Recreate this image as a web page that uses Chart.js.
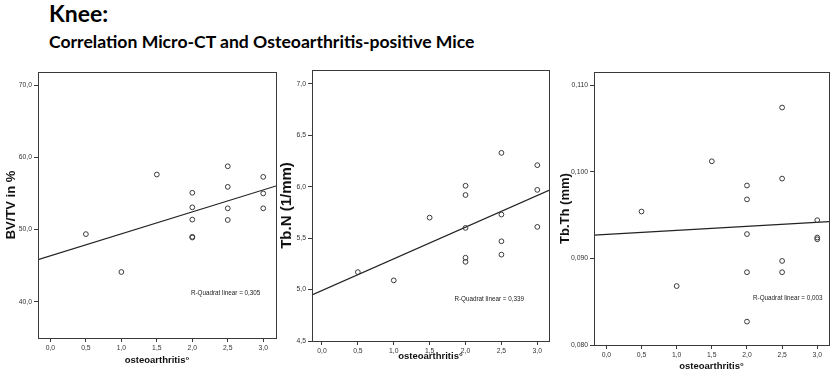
<!DOCTYPE html>
<html>
<head>
<meta charset="utf-8">
<script src="https://cdn.jsdelivr.net/npm/chart.js@4"></script>
<style>
  body { margin: 0; background: #fff; width: 834px; height: 376px; overflow: hidden; position: relative; }
  .title { position: absolute; left: 49px; font-family: Lato, 'Open Sans', sans-serif; font-weight: bold; color: #000; white-space: nowrap; }
  #t1 { top: -1px; font-size: 23px; }
  #t2 { top: 31px; font-size: 17.6px; }
  canvas { position: absolute; top: 60px; }
</style>
</head>
<body>
<div class="title" id="t1">Knee:</div>
<div class="title" id="t2">Correlation Micro-CT and Osteoarthritis-positive Mice</div>
<canvas id="c1" width="290" height="316" style="left:0px"></canvas>
<canvas id="c2" width="285" height="316" style="left:278px"></canvas>
<canvas id="c3" width="279" height="316" style="left:555px"></canvas>
<script>
// osteoarthritis grade per mouse (same for all three plots)
var osteoarthritis = [0.5, 1.0, 1.5, 2.0, 2.0, 2.0, 2.0, 2.0, 2.5, 2.5, 2.5, 2.5, 3.0, 3.0, 3.0];
var xTicks = [0, 0.5, 1, 1.5, 2, 2.5, 3];

// micro-CT values
var bvtv = [49.37, 44.13, 57.62, 55.09, 53.08, 51.38, 49.0, 48.9, 58.76, 55.91, 52.94, 51.33, 57.29, 55.0, 52.94];
var tbn  = [5.17, 5.09, 5.70, 6.01, 5.92, 5.60, 5.31, 5.27, 6.33, 5.73, 5.47, 5.34, 6.21, 5.97, 5.61];
var tbth = [0.0954, 0.0868, 0.1012, 0.0984, 0.0968, 0.0928, 0.0884, 0.0827, 0.1074, 0.0992, 0.0897, 0.0884, 0.0944, 0.0924, 0.0922];

var bvtvTicks = [40, 50, 60, 70];
var tbnTicks  = [4.5, 5.0, 5.5, 6.0, 6.5, 7.0];
var tbthTicks = [0.080, 0.090, 0.100, 0.110];

var rSquared = ['R-Quadrat linear = 0,305', 'R-Quadrat linear = 0,339', 'R-Quadrat linear = 0,003'];

var axisFont = "'Liberation Sans', Arial, sans-serif";
var ink = '#3a3a3a';

// least squares fit, used for the straight line in each plot
function linearFit(xs, ys) {
  var n = xs.length, mx = 0, my = 0;
  for (var i = 0; i < n; i++) { mx += xs[i]; my += ys[i]; }
  mx /= n; my /= n;
  var sxy = 0, sxx = 0;
  for (var j = 0; j < n; j++) {
    sxy += (xs[j] - mx) * (ys[j] - my);
    sxx += (xs[j] - mx) * (xs[j] - mx);
  }
  var slope = sxy / sxx;
  return { slope: slope, intercept: my - slope * mx };
}

// frame around the plot area + the R-squared note
var framePlugin = {
  id: 'frame',
  afterDraw: function (chart, args, opts) {
    var a = chart.chartArea, ctx = chart.ctx;
    ctx.save();
    ctx.strokeStyle = ink;
    ctx.lineWidth = 1;
    ctx.strokeRect(Math.round(a.left) + 0.5, Math.round(a.top) + 0.5,
                   Math.round(a.right - a.left), Math.round(a.bottom - a.top));
    ctx.fillStyle = '#222';
    ctx.font = '6.3px ' + axisFont;
    ctx.textAlign = 'center';
    ctx.textBaseline = 'middle';
    ctx.fillText(opts.text, chart.scales.x.getPixelForValue(opts.at[0]),
                 chart.scales.y.getPixelForValue(opts.at[1]));
    ctx.restore();
  }
};

function makeChart(id, ys, cfg) {
  var fit = linearFit(osteoarthritis, ys);
  var pts = osteoarthritis.map(function (x, i) { return { x: x, y: ys[i] }; });
  var line = [cfg.xMin, cfg.xMax].map(function (x) { return { x: x, y: fit.intercept + fit.slope * x }; });

  return new Chart(document.getElementById(id), {
    type: 'scatter',
    data: {
      datasets: [
        {
          data: pts,
          pointRadius: 2.4,
          pointBorderWidth: 1,
          borderColor: ink,
          backgroundColor: 'rgba(0,0,0,0)'
        },
        {
          type: 'line',
          data: line,
          borderColor: '#222',
          borderWidth: 1.2,
          pointRadius: 0,
          fill: false
        }
      ]
    },
    options: {
      responsive: false,
      animation: false,
      events: [],
      layout: { padding: cfg.padding },
      plugins: {
        legend: { display: false },
        tooltip: { enabled: false },
        frame: { text: cfg.note, at: cfg.noteAt }
      },
      scales: {
        x: {
          type: 'linear',
          min: cfg.xMin,
          max: cfg.xMax,
          afterBuildTicks: function (s) { s.ticks = xTicks.map(function (v) { return { value: v }; }); },
          afterFit: function (s) { s.height = cfg.xHeight; },
          grid: { drawOnChartArea: false, drawTicks: true, tickLength: 4, color: ink },
          border: { color: ink },
          ticks: {
            padding: 2,
            color: '#333',
            font: { family: axisFont, size: 6.8 },
            maxRotation: 0,
            callback: function (v) { return v.toFixed(1).replace('.', ','); }
          },
          title: {
            display: true,
            text: 'osteoarthritis°',
            color: '#111',
            font: { family: axisFont, size: 9.5, weight: 'bold' },
            padding: { top: 0, bottom: cfg.xTitlePad }
          }
        },
        y: {
          type: 'linear',
          min: cfg.yMin,
          max: cfg.yMax,
          afterBuildTicks: function (s) { s.ticks = cfg.yTicks.map(function (v) { return { value: v }; }); },
          afterFit: function (s) { s.width = cfg.yWidth; },
          grid: { drawOnChartArea: false, drawTicks: true, tickLength: 4, color: ink },
          border: { color: ink },
          ticks: {
            padding: 2,
            color: '#333',
            font: { family: axisFont, size: 6.8 },
            callback: function (v) { return v.toFixed(cfg.decimals).replace('.', ','); }
          },
          title: {
            display: true,
            text: cfg.yTitle,
            color: '#111',
            font: { family: axisFont, size: cfg.yTitleSize, weight: 'bold' },
            padding: { top: cfg.yTitlePad, bottom: 0 }
          }
        }
      }
    },
    plugins: [framePlugin]
  });
}

makeChart('c1', bvtv, {
  xMin: -0.175, xMax: 3.18, yMin: 35, yMax: 71.8, yTicks: bvtvTicks, decimals: 1,
  padding: { left: 0, top: 12, right: 14, bottom: 0 }, yWidth: 38, xHeight: 38, xTitlePad: 10,
  yTitle: 'BV/TV in %', yTitleSize: 13, yTitlePad: 4,
  note: rSquared[0], noteAt: [2.47, 41.2]
});

makeChart('c2', tbn, {
  xMin: -0.139, xMax: 3.163, yMin: 4.5, yMax: 7.136, yTicks: tbnTicks, decimals: 1,
  padding: { left: 0, top: 10, right: 14, bottom: 0 }, yWidth: 34, xHeight: 35, xTitlePad: 14,
  yTitle: 'Tb.N (1/mm)', yTitleSize: 15, yTitlePad: 0,
  note: rSquared[1], noteAt: [2.33, 4.905]
});

makeChart('c3', tbth, {
  xMin: -0.176, xMax: 3.167, yMin: 0.080, yMax: 0.1115, yTicks: tbthTicks, decimals: 3,
  padding: { left: 0, top: 12, right: 4, bottom: 0 }, yWidth: 39, xHeight: 31, xTitlePad: 4,
  yTitle: 'Tb.Th (mm)', yTitleSize: 13, yTitlePad: 3,
  note: rSquared[2], noteAt: [2.58, 0.08542]
});
</script>
</body>
</html>
